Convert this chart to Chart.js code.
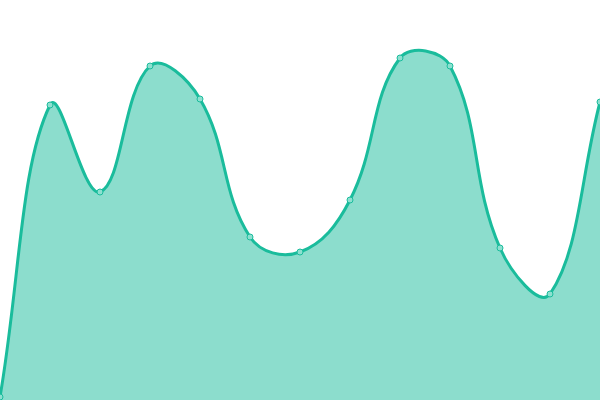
<!DOCTYPE html>
<html>
<head>
<meta charset="utf-8">
<script src="https://cdn.jsdelivr.net/npm/chart.js@4"></script>
<style>
  html, body { margin: 0; padding: 0; background: #fff; }
  #wrap { width: 600px; height: 400px; }
</style>
</head>
<body>
<div id="wrap"><canvas id="areaChart"></canvas></div>
<script>
// dados do grafico
const labels = ['1', '2', '3', '4', '5', '6', '7', '8', '9', '10', '11', '12', '13'];
const valores = [3, 295, 208, 334, 301, 163, 148, 200, 342, 334, 152, 106, 298];
const yMin = 0;
const yMax = 400;

const ctx = document.getElementById('areaChart').getContext('2d');
const areaChart = new Chart(ctx, {
    type: 'line',
    data: {
        labels: labels,
        datasets: [{
            data: valores,
            borderColor: 'rgb(26, 188, 156)',
            backgroundColor: 'rgba(26, 188, 156, 0.5)',
            borderWidth: 3,
            fill: true,
            tension: 0.4,
            pointRadius: 3,
            pointBorderWidth: 1,
            pointBackgroundColor: 'rgb(141, 224, 208)',
            pointBorderColor: 'rgb(26, 188, 156)'
        }]
    },
    options: {
        responsive: true,
        maintainAspectRatio: false,
        animation: false,
        layout: { padding: 0, autoPadding: false },
        plugins: {
            legend: { display: false },
            tooltip: { enabled: false }
        },
        scales: {
            x: { display: false },
            y: { display: false, min: yMin, max: yMax }
        }
    }
});
</script>
</body>
</html>
